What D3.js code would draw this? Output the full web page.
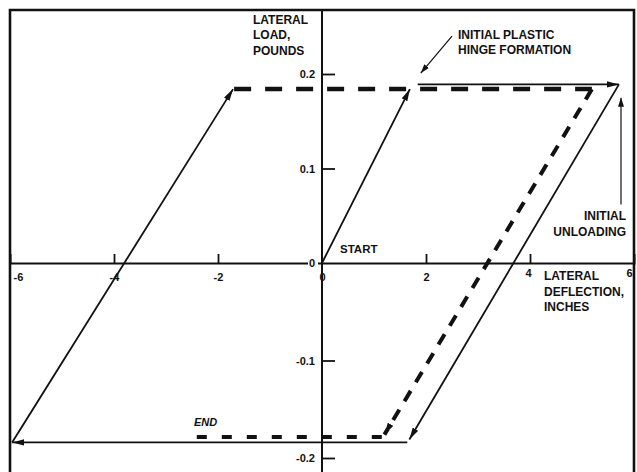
<!DOCTYPE html>
<html>
<head>
<meta charset="utf-8">
<script src="https://cdn.jsdelivr.net/npm/d3@7/dist/d3.min.js"></script>
<style>
  html, body { margin: 0; padding: 0; background: #fff; }
  svg { display: block; }
  text { font-family: "Liberation Sans", Arial, Helvetica, sans-serif; font-weight: bold; fill: #111; }
</style>
</head>
<body>
<svg id="chart" width="637" height="472"></svg>
<script>
// Axis ticks and their labels
const xTicks = [-6, -4, -2, 0, 2, 4, 6];
const xTickLabels = ["-6", "-4", "-2", "0", "2", "4", "6"];
const yTicks = [-0.2, -0.1, 0.1, 0.2];
const yTickLabels = ["-0.2", "-0.1", "0.1", "0.2"];

// First load cycle (solid): [lateral deflection in, lateral load lb]
const elasticLoading = [[0, 0], [1.69, 0.184]];
const plasticLoading = [[1.84, 0.189], [5.71, 0.189]];
const unloading = [[5.71, 0.189], [1.68, -0.181]];
const reverseLoading = [[1.64, -0.184], [-5.96, -0.184]];
const reloading = [[-5.96, -0.184], [-1.71, 0.184]];

// Second cycle (dashed)
const secondLoading = [[-1.69, 0.184], [5.19, 0.184], [1.2, -0.176]];
const finalLeg = [[1.15, -0.1785], [-2.6, -0.1785]];

// Annotation pointers
const hingePointer = [[2.5, 0.240], [1.9, 0.201]];
const unloadingPointer = [[5.75, 0.062], [5.75, 0.175]];

const svg = d3.select("#chart");
const x = d3.scaleLinear().domain([-6, 6]).range([10, 634]);
const y = d3.scaleLinear().domain([-0.2, 0, 0.2]).range([458, 263, 74]);

const defs = svg.append("defs");
function marker(id, len, half) {
  defs.append("marker")
    .attr("id", id)
    .attr("markerUnits", "userSpaceOnUse")
    .attr("viewBox", `0 0 ${len} ${half * 2}`)
    .attr("refX", len).attr("refY", half)
    .attr("markerWidth", len).attr("markerHeight", half * 2)
    .attr("orient", "auto")
    .append("path")
    .attr("d", `M0,0 L${len},${half} L0,${half * 2} Z`)
    .attr("fill", "#111");
}
marker("arrow", 12, 3.2);
marker("arrowSmall", 9, 3);

// Frame (open at the bottom)
svg.append("path")
  .attr("d", `M10,472 L10,10 L634,10 L634,472`)
  .attr("fill", "none").attr("stroke", "#111").attr("stroke-width", 2.6);

// X axis: ticks rise above the line, labels below
const xAxis = d3.axisBottom(x)
  .tickValues(xTicks)
  .tickFormat((d, i) => xTickLabels[i])
  .tickSize(-9).tickPadding(10);
const gx = svg.append("g").attr("transform", `translate(0,${y(0)})`).call(xAxis);
gx.select(".domain").attr("stroke", "#111").attr("stroke-width", 2);
gx.selectAll(".tick line").attr("stroke", "#111").attr("stroke-width", 1.8)
  .filter(d => d === -6 || d === 0 || d === 6).remove();
gx.selectAll(".tick text")
  .attr("font-size", 11).attr("font-family", "Liberation Sans, Arial, sans-serif")
  .attr("font-weight", "bold").attr("fill", "#111")
  .attr("dx", d => d === -6 ? 8 : d === 6 ? -5 : d === 4 ? -2 : 0)
  .attr("dy", d => d === 4 || d === 6 ? "0.4em" : "0.71em");

// Y axis: ticks point right, labels on the left
const yAxis = d3.axisLeft(y)
  .tickValues(yTicks)
  .tickFormat((d, i) => yTickLabels[i])
  .tickSize(-13).tickPadding(7);
const gy = svg.append("g").attr("transform", `translate(${x(0)},0)`).call(yAxis);
gy.select(".domain").remove();
gy.append("line").attr("x1", 0).attr("x2", 0).attr("y1", 10).attr("y2", 472)
  .attr("stroke", "#111").attr("stroke-width", 2);
gy.selectAll(".tick line").attr("stroke", "#111").attr("stroke-width", 1.8);
gy.selectAll(".tick text")
  .attr("font-size", 11).attr("font-family", "Liberation Sans, Arial, sans-serif")
  .attr("font-weight", "bold").attr("fill", "#111");

// Origin label of the load axis sits on the deflection axis
gy.append("rect").attr("x", -14).attr("y", y(0) - 6).attr("width", 10).attr("height", 11).attr("fill", "#fff");
gy.append("text").attr("x", -7).attr("y", y(0)).attr("dy", "0.36em")
  .attr("text-anchor", "end").attr("font-size", 11).text("0");

const line = d3.line().x(d => x(d[0])).y(d => y(d[1]));

function solid(data, w) {
  svg.append("path").datum(data).attr("d", line)
    .attr("fill", "none").attr("stroke", "#111").attr("stroke-width", w || 1.8)
    .attr("marker-end", "url(#arrow)");
}
solid(elasticLoading);
solid(plasticLoading);
solid(unloading);
solid(reverseLoading);
solid(reloading);

svg.append("path").datum(secondLoading.slice(0, 2)).attr("d", line)
  .attr("fill", "none").attr("stroke", "#111").attr("stroke-width", 4.5)
  .attr("stroke-dasharray", "17,14");
svg.append("path").datum(secondLoading.slice(1)).attr("d", line)
  .attr("fill", "none").attr("stroke", "#111").attr("stroke-width", 4)
  .attr("stroke-dasharray", "12,10")
  .attr("marker-end", "url(#arrow)");
svg.append("path").datum(finalLeg).attr("d", line)
  .attr("fill", "none").attr("stroke", "#111").attr("stroke-width", 4)
  .attr("stroke-dasharray", "10,15");

[hingePointer, unloadingPointer].forEach(p => {
  svg.append("path").datum(p).attr("d", line)
    .attr("fill", "none").attr("stroke", "#111").attr("stroke-width", 1.2)
    .attr("marker-end", "url(#arrowSmall)");
});

// Labels
function label(lines, px, py, anchor, opts) {
  const t = svg.append("text").attr("x", px).attr("y", py)
    .attr("text-anchor", anchor || "start")
    .attr("font-size", (opts && opts.size) || 12);
  if (opts && opts.italic) t.attr("font-style", "italic");
  lines.forEach((s, i) => t.append("tspan").attr("x", px).attr("dy", i ? 15.5 : 0).text(s));
}
label(["LATERAL", "LOAD,", "POUNDS"], 253, 23.5);
label(["INITIAL PLASTIC", "HINGE FORMATION"], 458, 38.5);
label(["START"], 340, 253, "start", { size: 11.5 });
label(["INITIAL", "UNLOADING"], 626, 220, "end");
label(["LATERAL", "DEFLECTION,", "INCHES"], 544, 280);
label(["END"], 194, 426, "start", { size: 11, italic: true });
</script>
</body>
</html>
